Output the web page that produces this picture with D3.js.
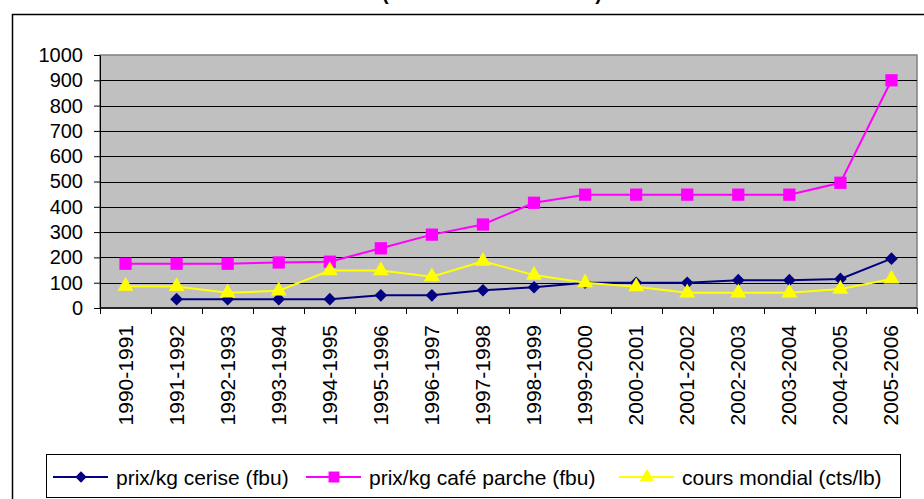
<!DOCTYPE html>
<html>
<head>
<meta charset="utf-8">
<script src="https://cdn.jsdelivr.net/npm/d3@7"></script>
<style>
  body { margin: 0; background: #fff; }
  text { font-family: "Liberation Sans", Arial, sans-serif; }
</style>
</head>
<body>
<div id="root"></div>
<script>
// campagnes
const seasons = ['1990-1991', '1991-1992', '1992-1993', '1993-1994', '1994-1995', '1995-1996',
  '1996-1997', '1997-1998', '1998-1999', '1999-2000', '2000-2001', '2001-2002',
  '2002-2003', '2003-2004', '2004-2005', '2005-2006']

// prix/kg cerise (fbu) - pas de valeur pour 1990-1991
const cerise = [null, 35, 35, 35, 35, 50, 50, 70, 82, 100, 100, 100, 110, 110, 115, 195]
// prix/kg café parche (fbu)
const parche = [175, 175, 175, 180, 183, 236, 290, 330, 416, 448, 448, 448, 448, 448, 495, 900]
// cours mondial (cts/lb)
const mondial = [86, 85, 60, 68, 148, 148, 124, 185, 130, 100, 84, 60, 60, 60, 75, 115]

const yTicks = [0, 100, 200, 300, 400, 500, 600, 700, 800, 900, 1000]

// le losange = carré tourné de 45°
const series = [
  {name: 'prix/kg cerise (fbu)', values: cerise, color: '#000080', symbol: d3.symbolSquare, size: 80, rot: 45},
  {name: 'prix/kg café parche (fbu)', values: parche, color: '#FF00FF', symbol: d3.symbolSquare, size: 150, rot: 0},
  {name: 'cours mondial (cts/lb)', values: mondial, color: '#FFFF00', symbol: d3.symbolTriangle, size: 110, rot: 0}
]

const W = 924, H = 499
const plot = {left: 100, top: 55, right: 917, bottom: 308}

const svg = d3.select('#root').append('svg')
  .attr('width', W)
  .attr('height', H)

// cadre du graphique
svg.append('rect')
  .attr('x', 12.5).attr('y', 14.5)
  .attr('width', 930).attr('height', 500)
  .attr('fill', '#fff').attr('stroke', '#000').attr('stroke-width', 1.5)

// titre (coupé en haut, comme sur l'original)
svg.append('text')
  .attr('x', 492).attr('y', 0)
  .attr('text-anchor', 'middle')
  .attr('font-size', 20)
  .attr('font-weight', 'bold')
  .attr('textLength', 220)
  .text('(en fbu et cts/lb)')

const x = d3.scaleBand().domain(seasons).range([plot.left, plot.right]).padding(0)
const y = d3.scaleLinear().domain([0, 1000]).range([plot.bottom, plot.top])

// zone de traçage
svg.append('rect')
  .attr('x', plot.left).attr('y', plot.top)
  .attr('width', plot.right - plot.left).attr('height', plot.bottom - plot.top)
  .attr('fill', '#C0C0C0').attr('stroke', '#808080').attr('stroke-width', 1.5)

// quadrillage
svg.append('g').selectAll('line')
  .data(yTicks.filter(d => d > 0 && d < 1000))
  .enter().append('line')
  .attr('x1', plot.left).attr('x2', plot.right)
  .attr('y1', d => Math.round(y(d)) + 0.5).attr('y2', d => Math.round(y(d)) + 0.5)
  .attr('stroke', '#000').attr('stroke-width', 1)

// axe Y
const yAxis = svg.append('g')
  .attr('transform', `translate(${plot.left},0)`)
  .call(d3.axisLeft(y).tickValues(yTicks).tickFormat(d3.format('d'))
    .tickSize(6).tickPadding(11).tickSizeOuter(0))
yAxis.select('.domain').attr('stroke', '#000')
yAxis.selectAll('.tick line').attr('stroke', '#000')
yAxis.selectAll('text').attr('font-size', 20).attr('fill', '#000')
  .style('font-family', '"Liberation Sans", Arial, sans-serif')

// axe X : ligne + graduations entre catégories
svg.append('line')
  .attr('x1', plot.left).attr('x2', plot.right)
  .attr('y1', plot.bottom).attr('y2', plot.bottom)
  .attr('stroke', '#000').attr('stroke-width', 1.5)
const bounds = seasons.map(s => x(s)).concat([plot.right])
svg.append('g').selectAll('line')
  .data(bounds)
  .enter().append('line')
  .attr('x1', d => Math.round(d) + 0.5).attr('x2', d => Math.round(d) + 0.5)
  .attr('y1', plot.bottom).attr('y2', plot.bottom + 6)
  .attr('stroke', '#000')

// libellés X (verticaux)
svg.append('g').selectAll('text')
  .data(seasons)
  .enter().append('text')
  .attr('transform', d => `translate(${x(d) + x.bandwidth() / 2 + 7},${plot.bottom + 17}) rotate(-90)`)
  .attr('text-anchor', 'end')
  .attr('font-size', 21)
  .text(d => d)

// courbes
const line = d3.line()
  .defined(d => d.v !== null)
  .x(d => x(d.s) + x.bandwidth() / 2)
  .y(d => y(d.v))

series.forEach(se => {
  const pts = seasons.map((s, i) => ({s: s, v: se.values[i]}))
  svg.append('path')
    .datum(pts)
    .attr('fill', 'none')
    .attr('stroke', se.color)
    .attr('stroke-width', 2)
    .attr('d', line)
  svg.append('g').selectAll('path')
    .data(pts.filter(d => d.v !== null))
    .enter().append('path')
    .attr('transform', d => `translate(${x(d.s) + x.bandwidth() / 2},${y(d.v)}) rotate(${se.rot})`)
    .attr('d', d3.symbol().type(se.symbol).size(se.size))
    .attr('fill', se.color)
})

// légende
const leg = svg.append('g')
leg.append('rect')
  .attr('x', 46.5).attr('y', 454.5)
  .attr('width', 854).attr('height', 43)
  .attr('fill', '#fff').attr('stroke', '#000').attr('stroke-width', 1)
const legX = [53, 306, 619]
series.forEach((se, i) => {
  const g = leg.append('g').attr('transform', `translate(${legX[i]},477)`)
  g.append('line').attr('x1', 0).attr('x2', 55).attr('y1', 0).attr('y2', 0)
    .attr('stroke', se.color).attr('stroke-width', 2)
  g.append('path').attr('transform', `translate(28,0) rotate(${se.rot})`)
    .attr('d', d3.symbol().type(se.symbol).size(se.size * 0.8))
    .attr('fill', se.color)
  g.append('text').attr('x', 63).attr('y', 7.5)
    .attr('font-size', 21)
    .text(se.name)
})
</script>
</body>
</html>
